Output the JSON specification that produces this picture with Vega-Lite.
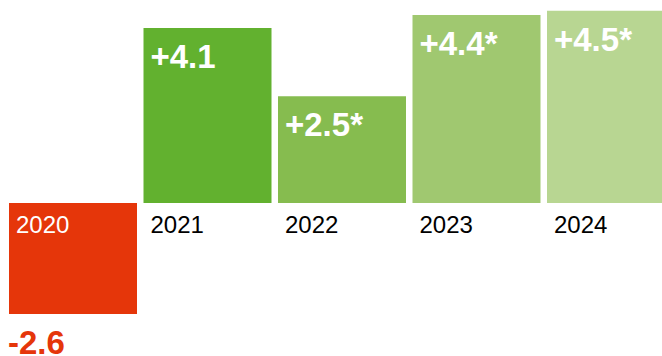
{
  "$schema": "https://vega.github.io/schema/vega-lite/v6.json",
  "width": 662,
  "height": 356,
  "autosize": "none",
  "padding": 0,
  "background": "white",
  "config": {"view": {"stroke": null}, "font": "Liberation Sans"},
  "data": {"values": [
    {"year": "2020", "value": -2.6, "label": "-2.6"},
    {"year": "2021", "value": 4.1, "label": "+4.1"},
    {"year": "2022", "value": 2.5, "label": "+2.5*"},
    {"year": "2023", "value": 4.4, "label": "+4.4*"},
    {"year": "2024", "value": 4.5, "label": "+4.5*"}
  ]},
  "layer": [
    {
      "mark": {"type": "bar"},
      "encoding": {
        "x": {"field": "year", "type": "ordinal", "scale": {"range": [9, 675], "paddingInner": 0.0483, "paddingOuter": 0}, "axis": null},
        "y": {"field": "value", "type": "quantitative", "scale": {"domain": [-3.583, 4.754], "nice": false, "zero": false}, "axis": null},
        "color": {"field": "year", "type": "nominal", "scale": {"domain": ["2020", "2021", "2022", "2023", "2024"], "range": ["#e5360a", "#62b12f", "#86bc4f", "#a0c870", "#b8d692"]}, "legend": null}
      }
    },
    {
      "transform": [{"filter": "datum.value > 0"}],
      "mark": {"type": "text", "align": "left", "baseline": "alphabetic", "dx": 7, "dy": 40, "fontSize": 33, "fontWeight": "bold", "color": "white"},
      "encoding": {
        "x": {"field": "year", "type": "ordinal", "bandPosition": 0},
        "y": {"field": "value", "type": "quantitative"},
        "text": {"field": "label"}
      }
    },
    {
      "transform": [{"filter": "datum.value < 0"}],
      "mark": {"type": "text", "align": "left", "baseline": "alphabetic", "dx": -1, "dy": 40, "fontSize": 33, "fontWeight": "bold", "color": "#e5360a"},
      "encoding": {
        "x": {"field": "year", "type": "ordinal", "bandPosition": 0},
        "y": {"field": "value", "type": "quantitative"},
        "text": {"field": "label"}
      }
    },
    {
      "mark": {"type": "text", "align": "left", "baseline": "alphabetic", "dx": 7, "dy": 30, "fontSize": 24},
      "encoding": {
        "x": {"field": "year", "type": "ordinal", "bandPosition": 0},
        "y": {"datum": 0, "type": "quantitative"},
        "text": {"field": "year"},
        "color": {"condition": {"test": "datum.year == '2020'", "value": "white"}, "value": "black"}
      }
    }
  ]
}
